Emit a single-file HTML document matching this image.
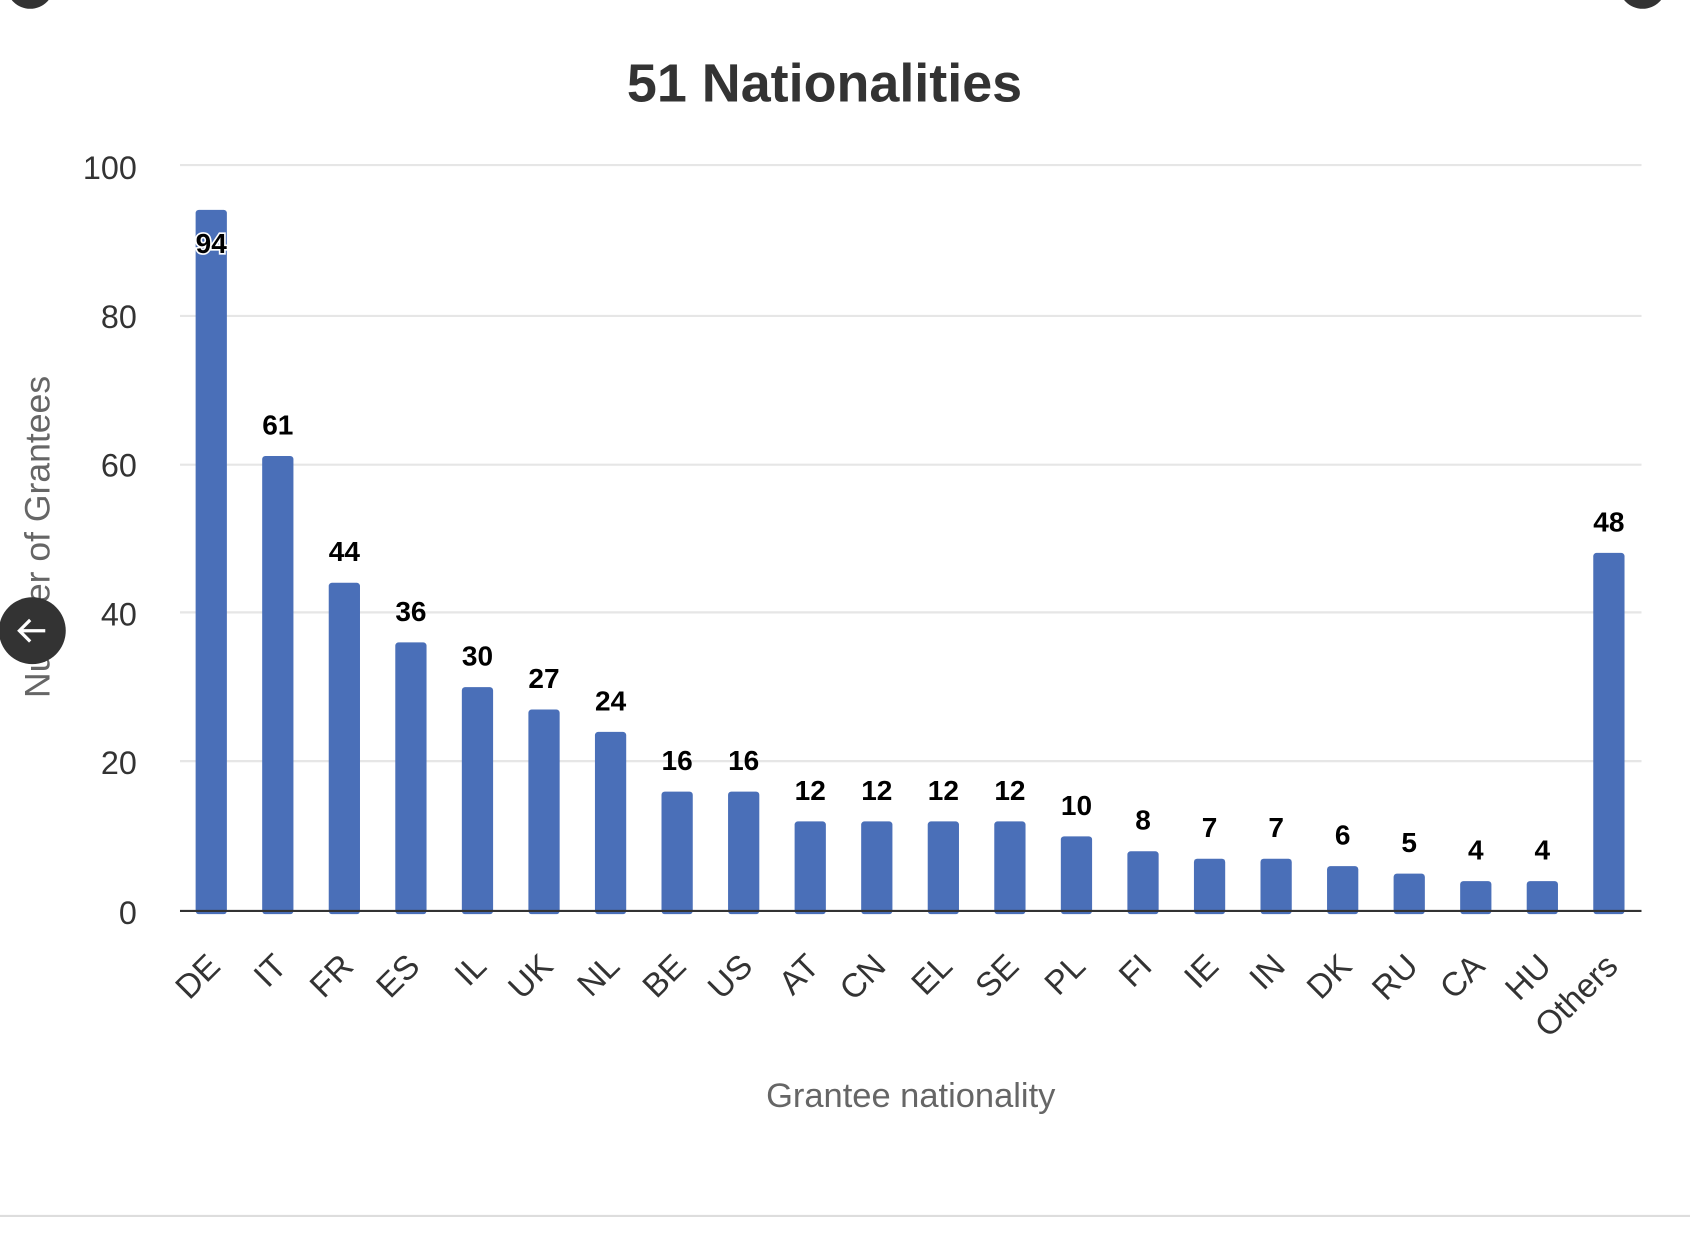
<!DOCTYPE html>
<html><head><meta charset="utf-8"><style>
html,body{margin:0;padding:0;background:#fff;width:1690px;height:1242px;overflow:hidden}
svg{display:block}
text{font-family:"Liberation Sans",sans-serif}
</style></head><body>
<svg width="1690" height="1242" viewBox="0 0 1568 1152" xmlns="http://www.w3.org/2000/svg">
<rect width="1568" height="1152" fill="#fff"/>
<circle cx="28" cy="-14" r="22" fill="#333"/>
<circle cx="1524" cy="-14" r="22" fill="#333"/>
<text x="765" y="94" font-size="50" font-weight="bold" fill="#333" text-anchor="middle">51 Nationalities</text>
<g stroke="#e6e6e6" stroke-width="2">
<line x1="167" y1="153" x2="1523" y2="153"/>
<line x1="167" y1="293" x2="1523" y2="293"/>
<line x1="167" y1="431" x2="1523" y2="431"/>
<line x1="167" y1="568" x2="1523" y2="568"/>
<line x1="167" y1="706" x2="1523" y2="706"/>
</g>
<g font-size="30" fill="#333" text-anchor="end">
<text x="127" y="166">100</text>
<text x="127" y="304">80</text>
<text x="127" y="442">60</text>
<text x="127" y="580">40</text>
<text x="127" y="718">20</text>
<text x="127" y="857">0</text>
</g>
<text transform="translate(46,498) rotate(-90)" font-size="33" fill="#666" text-anchor="middle">Number of Grantees</text>
<text x="845" y="1027" font-size="32" fill="#666" text-anchor="middle">Grantee nationality</text>
<g id="bars" fill="#4a6fb8"></g>
<line x1="167" y1="845" x2="1523" y2="845" stroke="#333" stroke-width="2"/>
<g id="vals" font-size="26" font-weight="bold" fill="#000" text-anchor="middle"></g>
<g id="xl" font-size="31" fill="#333" text-anchor="end"></g>
<line x1="0" y1="1128" x2="1568" y2="1128" stroke="#ddd" stroke-width="2"/>
<circle cx="30" cy="585" r="31" fill="#333"/>
<path d="M42 585 H18 M28 575 L18 585 L28 595" stroke="#fff" stroke-width="3" fill="none"/>
<script>
var d=[["DE",94],["IT",61],["FR",44],["ES",36],["IL",30],["UK",27],["NL",24],["BE",16],["US",16],["AT",12],["CN",12],["EL",12],["SE",12],["PL",10],["FI",8],["IE",7],["IN",7],["DK",6],["RU",5],["CA",4],["HU",4],["Others",48]];
var ns="http://www.w3.org/2000/svg",b=document.getElementById("bars"),v=document.getElementById("vals"),x=document.getElementById("xl");
d.forEach(function(e,i){
 var cx=196+i*61.75,h=e[1]*6.92,y=845-h;
 var r=document.createElementNS(ns,"rect");
 r.setAttribute("x",cx-14.5);r.setAttribute("y",y);r.setAttribute("width",29);r.setAttribute("height",h+3);r.setAttribute("rx",3);
 b.appendChild(r);
 var t=document.createElementNS(ns,"text");
 t.textContent=e[1];
 if(i==0){t.setAttribute("x",cx);t.setAttribute("y",y+40);t.setAttribute("stroke","#fff");t.setAttribute("stroke-width","3");t.setAttribute("paint-order","stroke");}
 else{t.setAttribute("x",cx);t.setAttribute("y",y-20);}
 v.appendChild(t);
 var l=document.createElementNS(ns,"text");
 l.textContent=e[0];
 l.setAttribute("transform","translate("+(cx+10)+",898) rotate(-45)");
 x.appendChild(l);
});
</script>
</svg>
</body></html>
